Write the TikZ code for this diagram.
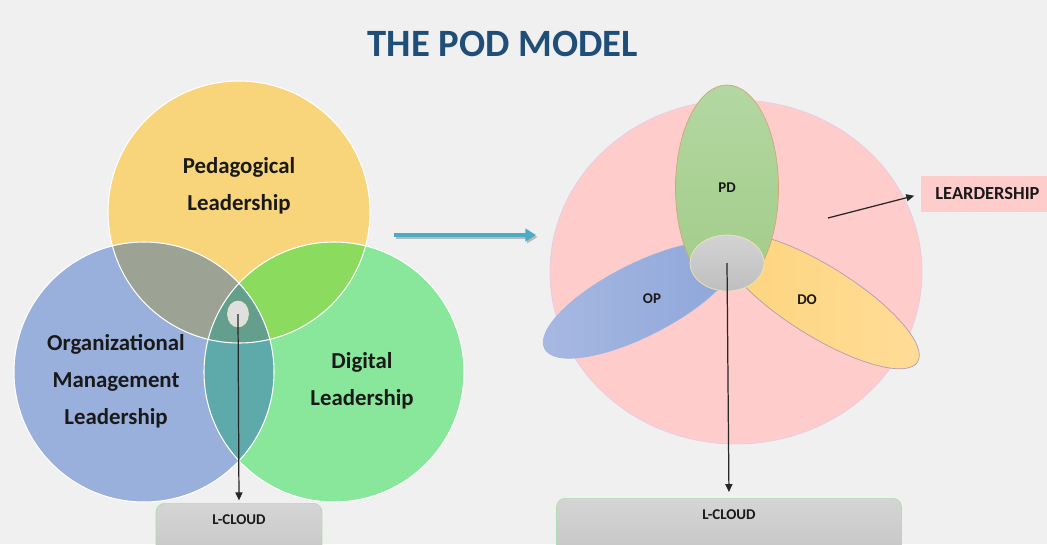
\documentclass[tikz,border=0pt]{standalone}
\usepackage{fontspec}
\setmainfont{Carlito}
\usetikzlibrary{arrows.meta,shapes.geometric}

\definecolor{bgGray}{HTML}{F0F0F0}
\definecolor{titleBlue}{HTML}{1F4E79}
\definecolor{pedYellow}{HTML}{F8D57A}
\definecolor{orgBlue}{HTML}{9AB0DC}
\definecolor{digGreen}{HTML}{88E79A}
\definecolor{pedOrg}{HTML}{9CA394}
\definecolor{pedDig}{HTML}{8ADB5E}
\definecolor{orgDig}{HTML}{5EA9AA}
\definecolor{allThree}{HTML}{649F8E}
\definecolor{leadPink}{HTML}{FFCCCC}
\definecolor{flowTeal}{HTML}{4BACC6}
\definecolor{opLight}{HTML}{A8B9E2}
\definecolor{opDark}{HTML}{8CA5D9}
\definecolor{doLeft}{HTML}{FED47C}
\definecolor{doRight}{HTML}{FFDC98}
\definecolor{pdTop}{HTML}{B3D7A2}
\definecolor{pdBottom}{HTML}{A2CC88}
\definecolor{hubTop}{HTML}{D3D3D3}
\definecolor{hubBottom}{HTML}{BFBFBF}

\begin{document}
\begin{tikzpicture}[x=0.02cm, y=-0.02cm,
  bigLab/.style={font=\fontsize{13}{21}\selectfont\bfseries, text=black!90, align=center},
  smallLab/.style={font=\fontsize{8.5}{10}\selectfont\bfseries, text=black!90},
  blackArrow/.style={-{Triangle[length=4.5pt,width=4pt]}, line width=0.7pt, black!85},
  cloudBox/.style={anchor=north, rounded corners=5pt, draw=green!40!gray!45, top color=gray!33, bottom color=gray!48,
    font=\fontsize{8.5}{10}\selectfont\bfseries, text=black!90, text height=12pt, text depth=30pt, inner ysep=0pt}]

  % Background
  \fill[bgGray] (0,0) rectangle (1047,544);
  \useasboundingbox (0,0) rectangle (1047,544);

  % Title
  \node[font=\fontsize{22}{26}\selectfont\bfseries, text=titleBlue] (title) at (503,44) {THE POD MODEL};

  % Circles P, O, D
  \fill[pedYellow] (239,212) circle (131);
  \fill[orgBlue] (144,372) circle (130);
  \fill[digGreen] (334,372) circle (130);

  % Overlaps
  \begin{scope}
    \clip (239,212) circle (131);
    \fill[pedOrg] (144,372) circle (130);
    \fill[pedDig] (334,372) circle (130);
  \end{scope}
  \begin{scope}
    \clip (144,372) circle (130);
    \fill[orgDig] (334,372) circle (130);
    \clip (334,372) circle (130);
    \fill[allThree] (239,212) circle (131);
  \end{scope}
  \draw[white, line width=0.6pt] (239,212) circle (131) (144,372) circle (130) (334,372) circle (130);

  \node[bigLab] (pedLab) at (239,186) {Pedagogical\\Leadership};
  \node[bigLab] (orgLab) at (116,381) {Organizational\\Management\\Leadership};
  \node[bigLab] (digLab) at (362,381) {Digital\\Leadership};

  % Core and L-CLOUD (left)
  \node[ellipse, draw=yellow!50!gray!40, fill=gray!25, minimum width=0.42cm, minimum height=0.52cm, inner sep=0pt] (coreL) at (238,314) {};
  \node[cloudBox, minimum width=3.32cm] (cloudL) at (239,503) {L-CLOUD};
  \draw[blackArrow, shorten >=1.5pt] (coreL.center) -- (cloudL.north);

  % Flow arrow
  \coordinate (flowA) at (394,235);
  \coordinate (flowB) at (536,235);
  \draw[gray!55, line width=2.8pt, -{Triangle[length=6pt,width=7pt]}] ([shift={(1.5,2)}]flowA) -- ([shift={(1.5,2)}]flowB);
  \draw[flowTeal, line width=2.8pt, -{Triangle[length=6pt,width=7pt]}] (flowA) -- (flowB);

  % Circle L
  \draw[violet!20, fill=leadPink] (736,272) ellipse (186 and 172);

  % Petals DO, OP, PD
  \draw[gray!70!violet!60, left color=doLeft, right color=doRight, rotate around={-32:(820,301)}] (820,301) ellipse (115 and 35);
  \draw[cyan!50!blue!40, left color=opLight, right color=opDark, rotate around={27:(640,300)}] (640,300) ellipse (107 and 36);
  \draw[orange!50!gray!70, top color=pdTop, bottom color=pdBottom] (727,188) ellipse (51.5 and 103);

  \node[smallLab] (pdLab) at (727,188) {PD};
  \node[smallLab] (opLab) at (652,299) {OP};
  \node[smallLab] (doLab) at (807,300) {DO};

  % Hub and L-CLOUD (right)
  \node[ellipse, draw=yellow!50!gray!40, top color=hubTop, bottom color=hubBottom, minimum width=1.48cm, minimum height=1.12cm, inner sep=0pt] (hub) at (727,263) {};
  \node[cloudBox, minimum width=6.9cm] (cloudR) at (729,498) {L-CLOUD};
  \draw[blackArrow, shorten >=3.4pt] (hub.center) -- (cloudR.north);

  % Leadership label
  \node[fill=leadPink, anchor=west, font=\fontsize{10.5}{12}\selectfont\bfseries, text=black!90, minimum height=0.72cm, inner xsep=8pt] (lead) at (921,194) {LEARDERSHIP};
  \coordinate (leadFrom) at (828,218);
  \draw[blackArrow, shorten >=4pt] (leadFrom) -- (lead.west);
\end{tikzpicture}
\end{document}
